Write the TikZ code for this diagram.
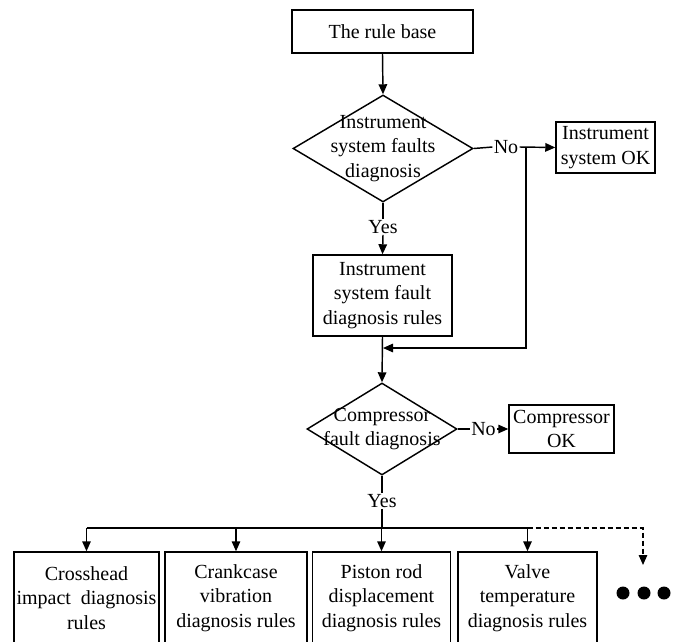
\documentclass[tikz,border=0pt]{standalone}
\usepackage{fontspec}
\setmainfont{Liberation Serif}
\usetikzlibrary{shapes.geometric,arrows.meta}
\newcommand\flowfont{\fontsize{20}{24.5}\selectfont}
\begin{document}
\begin{tikzpicture}[x=1pt,y=-1pt,line width=1.45pt,
  >={Triangle[length=10pt,width=8.5pt]},
  box/.style={draw,rectangle,inner sep=0pt,align=center,font=\flowfont},
  dia/.style={draw,diamond,inner sep=0pt},
  txt/.style={inner sep=0pt,align=center,font=\flowfont},
  lbl/.style={inner sep=0.6pt,font=\flowfont},
  dot/.style={circle,fill=black,inner sep=0pt,minimum size=13pt}]
\useasboundingbox (0,0) rectangle (673,641);
\clip (0,0) rectangle (673,641);

% top of the chain
\node[box,minimum width=181pt,minimum height=43pt] (base) at (382.5,31.5) {The rule base};

% instrument system check
\node[dia,minimum width=180pt,minimum height=107pt] (d1) at (383,148.5) {};
\node[txt] (d1t) at (d1.center) {Instrument\\system faults\\diagnosis};
\node[lbl] (no1) at (506,147) {No};
\node[box,minimum width=99pt,minimum height=51pt] (ok1) at (605.5,147.5) {Instrument\\system OK};
\node[lbl] (yes1) at (383,227) {Yes};
\node[box,minimum width=139pt,minimum height=81pt] (rules1) at (382.5,295.5)
  {Instrument\\system fault\\diagnosis rules};
\coordinate (j1) at (526,147);
\coordinate (m1) at (383,348);

% compressor check
\node[dia,minimum width=150pt,minimum height=92pt] (d2) at (382,429) {};
\node[txt] (d2t) at (d2.center) {Compressor\\fault diagnosis};
\node[lbl] (no2) at (483.5,429) {No};
\node[box,minimum width=105pt,minimum height=48pt] (ok2) at (561.5,429) {Compressor\\OK};
\node[lbl] (yes2) at (382,501) {Yes};
\coordinate (bus) at (382,528);

% rule groups
\node[box,minimum width=145pt,minimum height=92pt] (b1) at (86.5,598)
  {Crosshead\\impact~ diagnosis\\rules};
\node[box,minimum width=142pt,minimum height=92pt] (b2) at (236,598)
  {Crankcase\\vibration\\diagnosis rules};
\node[box,minimum width=138pt,minimum height=92pt] (b3) at (381.5,598)
  {Piston rod\\displacement\\diagnosis rules};
\node[box,minimum width=139pt,minimum height=92pt] (b4) at (527.5,598)
  {Valve\\temperature\\diagnosis rules};
\coordinate (more) at (643,565);
\node[dot] (dot1) at (623,593) {};
\node[dot] (dot2) at (644,593) {};
\node[dot] (dot3) at (664,593) {};

% connectors
\draw[->] (base.south) -- (d1.north);
\draw (d1.east) -- (no1.west);
\draw[->] (no1.east) -- (ok1.west);
\draw (d1.south) -- (yes1.north);
\draw[->] (yes1.south) -- (rules1.north);
\draw[->] (j1) |- (m1);
\draw[->] (rules1.south) -- (d2.north);
\draw (d2.east) -- (no2.west);
\draw[->] (no2.east) -- (ok2.west);
\draw (d2.south) -- (yes2.north);
\draw (yes2.south) -- (bus);
\draw (b1.north |- bus) -- (b4.north |- bus);
\draw[->] (b1.north |- bus) -- (b1.north);
\draw[->] (b2.north |- bus) -- (b2.north);
\draw[->] (b3.north |- bus) -- (b3.north);
\draw[->] (b4.north |- bus) -- (b4.north);
\draw[->,dash pattern=on 5pt off 3pt] (b4.north |- bus) -| (more);
\end{tikzpicture}
\end{document}
